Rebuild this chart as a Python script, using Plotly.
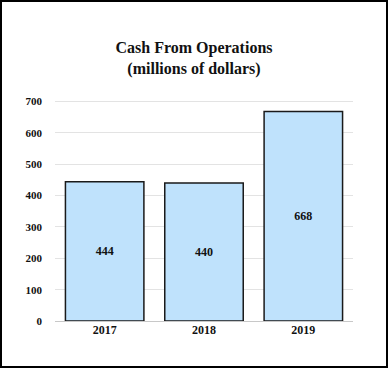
import plotly.graph_objects as go

years = ["2017", "2018", "2019"]
cash = [444, 440, 668]
y_ticks = [0, 100, 200, 300, 400, 500, 600, 700]

W, H = 388, 368
ml, mr, mt, mb = 55, 35, 100, 47
pw, ph = W - ml - mr, H - mt - mb

font = "Liberation Serif, Times New Roman, serif"

fig = go.Figure(go.Bar(
    x=years, y=cash, text=[str(v) for v in cash],
    texttemplate="<b>%{text}</b>",
    textposition="inside", insidetextanchor="middle",
    textfont=dict(family=font, size=12, color="#111"),
    marker=dict(color="#BFE2FC", line=dict(color="#1a1a1a", width=1.5)),
    width=0.79,
))

fig.update_layout(
    width=W, height=H,
    margin=dict(l=ml, r=mr, t=mt, b=mb),
    paper_bgcolor="white", plot_bgcolor="white",
    showlegend=False,
    title=dict(text="<b>Cash From Operations<br>(millions of dollars)</b>",
               x=0.5, xanchor="center", y=0.855, yanchor="middle",
               font=dict(family=font, size=16, color="#111")),
    font=dict(family=font, color="#111"),
    xaxis=dict(tickfont=dict(family=font, size=12, color="#111"),
               showline=False, ticks="", tickprefix="<b>", ticksuffix="</b>"),
    yaxis=dict(range=[0, 705], tickvals=y_ticks,
               ticktext=[f"<b>{v}</b>" for v in y_ticks],
               tickfont=dict(family=font, size=11, color="#111"),
               showgrid=True, gridcolor="#e3e3e3", gridwidth=1,
               zeroline=True, zerolinecolor="#c8c8c8", zerolinewidth=1,
               ticklabelstandoff=12),
    shapes=[dict(type="rect", xref="paper", yref="paper",
                 x0=(1 - ml) / pw, x1=(W - 1 - ml) / pw,
                 y0=-(mb - 1) / ph, y1=(H - 1 - mb) / ph,
                 line=dict(color="black", width=2))],
)

fig.write_html("out.html",
               config={"displayModeBar": False},
               post_script="document.body.style.margin='0';document.body.style.overflow='hidden';")
